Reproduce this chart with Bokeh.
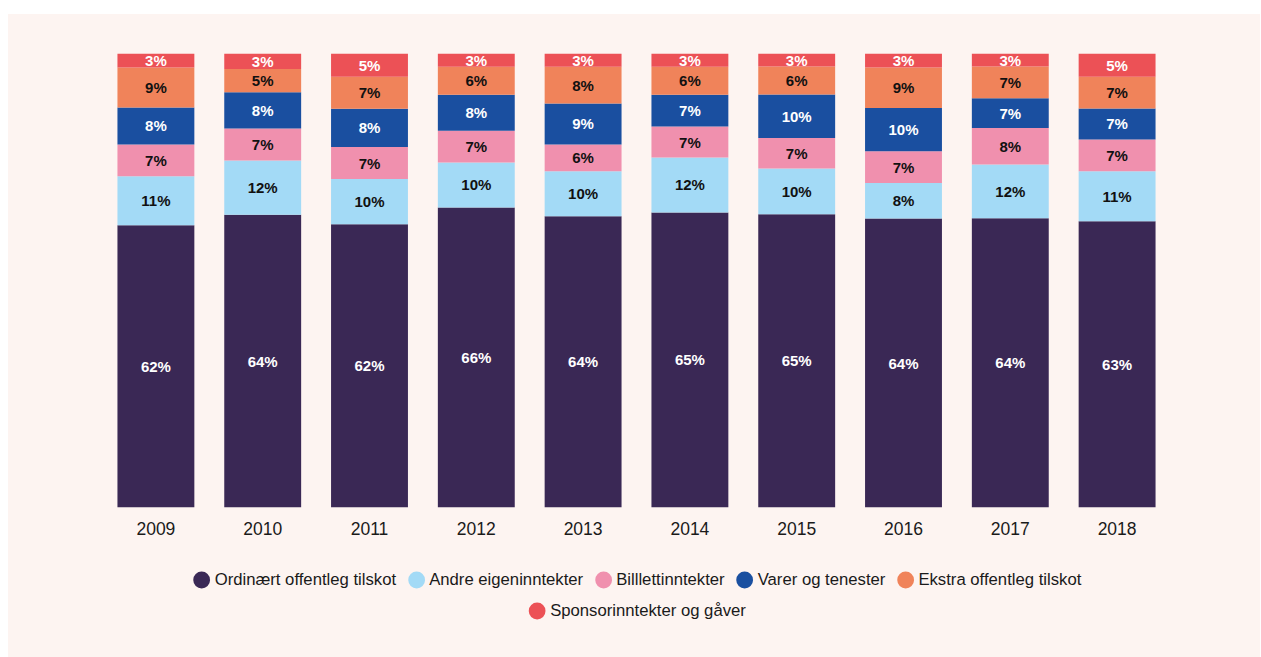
from bokeh.plotting import figure
from bokeh.models import ColumnDataSource, Legend, LegendItem, Range1d, Spacer
from bokeh.layouts import column, row
from bokeh.embed import file_html
from bokeh.resources import INLINE
from bokeh.core.properties import value

# ---- data (percent shares) ----
years = ["2009", "2010", "2011", "2012", "2013", "2014", "2015", "2016", "2017", "2018"]
ordinaert = [62.1, 64.1, 62.1, 66.1, 64.1, 65.0, 65.0, 64.1, 64.1, 63.0]
andre = [10.8, 11.9, 9.9, 9.9, 9.9, 12.1, 10.1, 7.9, 11.9, 11.0]
billett = [7.0, 7.0, 7.0, 7.0, 5.9, 6.8, 6.8, 7.0, 8.1, 7.0]
varer = [8.1, 7.9, 8.4, 7.9, 9.0, 7.0, 9.6, 9.6, 6.6, 6.8]
ekstra = [8.8, 5.1, 7.0, 6.2, 8.1, 6.2, 6.2, 9.0, 7.0, 7.0]
sponsor = [3.1, 3.4, 5.1, 2.9, 2.9, 2.9, 2.9, 3.1, 2.9, 5.1]

series_names = ["Ordinært offentleg tilskot", "Andre eigeninntekter", "Billlettinntekter",
                "Varer og tenester", "Ekstra offentleg tilskot", "Sponsorinntekter og gåver"]
series_values = [ordinaert, andre, billett, varer, ekstra, sponsor]
colors = ["#3A2855", "#A3DAF6", "#F090AE", "#1A4FA0", "#F0835A", "#EC5156"]
text_colors = ["#FFFFFF", "#111111", "#111111", "#FFFFFF", "#111111", "#FFFFFF"]

BG = "#FDF4F1"
FONT = "Liberation Sans"

# ---- sources ----
keys = ["s%d" % i for i in range(len(series_values))]
totals = [sum(vals[j] for vals in series_values) for j in range(len(years))]
data = {"year": years}
for k, vals in zip(keys, series_values):
    data[k] = [v / t for v, t in zip(vals, totals)]
src = ColumnDataSource(data)

lx, ly, lt, lc = [], [], [], []
for j, yr in enumerate(years):
    base = 0.0
    for i, vals in enumerate(series_values):
        frac = vals[j] / totals[j]
        lx.append(yr)
        ly.append(base + frac / 2)
        lt.append("%d%%" % int(vals[j] + 0.5))
        lc.append(text_colors[i])
        base += frac
lsrc = ColumnDataSource(dict(x=lx, y=ly, text=lt, color=lc))

W = 1252

# ---- main figure ----
p = figure(x_range=years, y_range=Range1d(0, 1), width=W, height=531,
           output_backend="svg", toolbar_location=None,
           min_border_left=94, min_border_right=90, min_border_top=39, min_border_bottom=38,
           background_fill_color=BG, border_fill_color=BG, outline_line_color=None,
           y_axis_location=None)
p.vbar_stack(keys, x="year", width=0.72, color=colors, source=src, line_width=0)
p.text(x="x", y="y", text="text", source=lsrc, text_color="color",
       text_font=value(FONT), text_font_style="bold", text_font_size=value("15px"),
       text_align="center", text_baseline="middle")

p.xgrid.visible = False
p.ygrid.visible = False
p.xaxis.axis_line_color = None
p.xaxis.major_tick_line_color = None
p.xaxis.minor_tick_line_color = None
p.xaxis.major_label_text_font = FONT
p.xaxis.major_label_text_font_size = "17.5px"
p.xaxis.major_label_text_color = "#1a1a1a"
p.xaxis.major_label_standoff = 8
p.x_range.range_padding = 0

# ---- legend figure ----
lf = figure(x_range=Range1d(0, 1), y_range=Range1d(0, 1), width=W, height=112,
            output_backend="svg", toolbar_location=None,
            min_border_left=94, min_border_right=90, min_border_top=0, min_border_bottom=0,
            background_fill_color=BG, border_fill_color=BG, outline_line_color=None,
            x_axis_location=None, y_axis_location=None)
lf.xgrid.visible = False
lf.ygrid.visible = False
items = []
for name, col in zip(series_names, colors):
    r = lf.ellipse(x=[-5], y=[-5], width=17, height=17, width_units="screen",
                   height_units="screen", fill_color=col, line_color=None)
    items.append(LegendItem(label=name, renderers=[r]))

def make_legend(its, loc, margin):
    return Legend(items=its, orientation="horizontal", location=loc, margin=margin, padding=0,
                  glyph_width=21, glyph_height=21, label_standoff=3, spacing=9,
                  label_text_font=FONT, label_text_font_size="16.7px",
                  label_text_color="#1a1a1a", background_fill_alpha=0,
                  border_line_color=None)

lf.add_layout(make_legend(items[:5], "top_center", 24))
lf.add_layout(make_legend(items[5:], "bottom_center", 36))

panel = column(p, lf, spacing=0, styles={"background-color": BG})
layout = column(Spacer(height=14, width=W + 8),
                row(Spacer(width=8, height=643), panel, spacing=0),
                spacing=0)
open("out.html", "w").write(file_html(layout, INLINE))
